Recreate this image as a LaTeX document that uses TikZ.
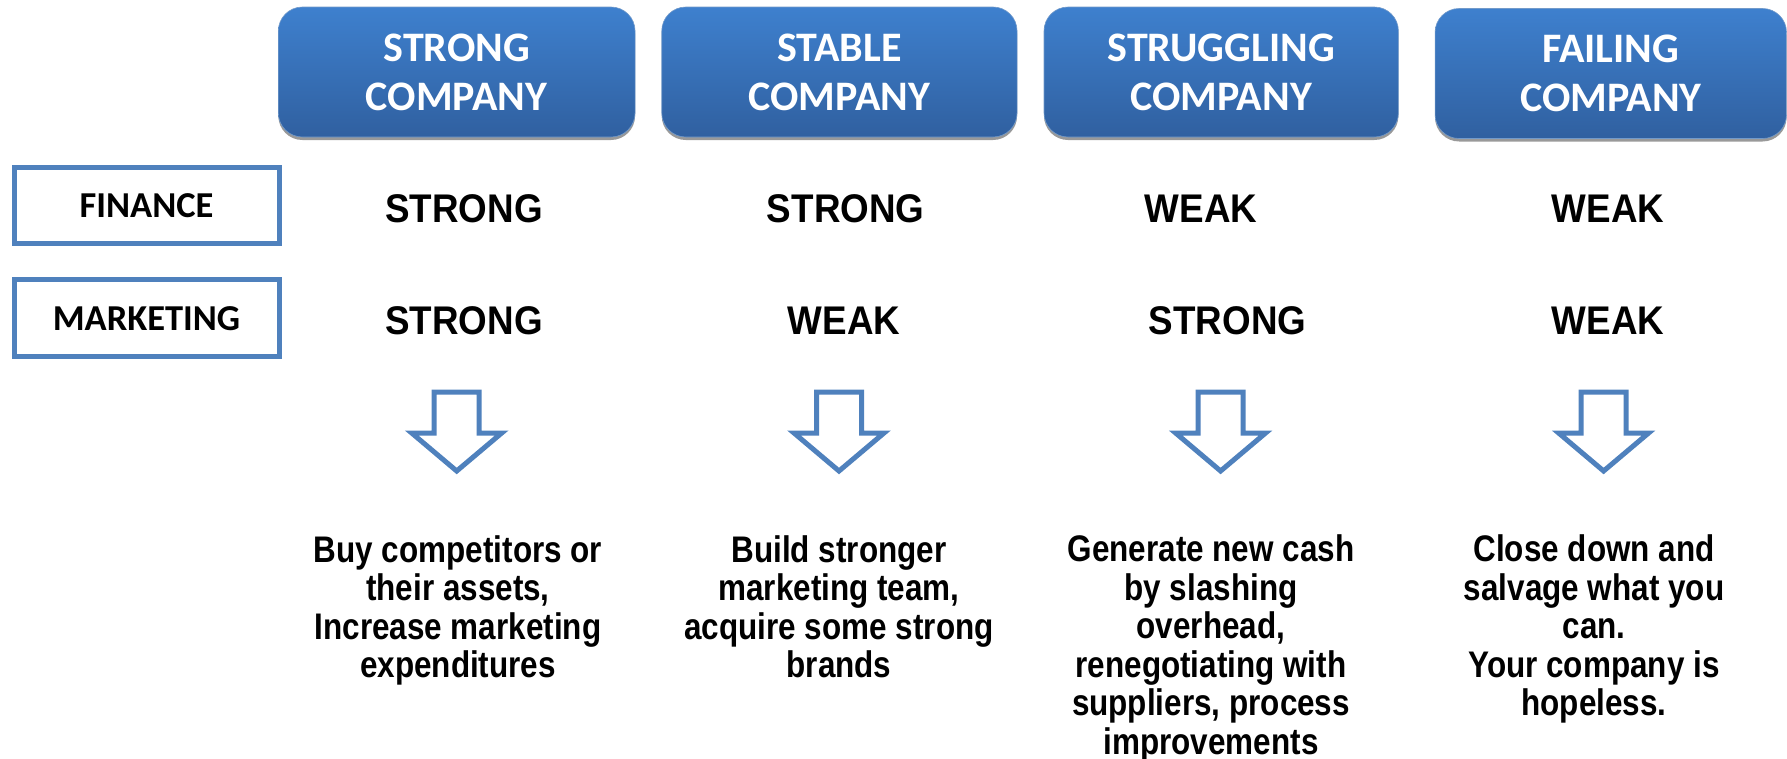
\documentclass[tikz,border=0pt]{standalone}
\usepackage{fontspec}
\usetikzlibrary{shadows}
\newfontfamily\headfont{Carlito}
\newfontfamily\valuefont{Liberation Sans}[FakeStretch=0.92]
\newfontfamily\notefont{Liberation Sans}[FakeStretch=0.85]
\definecolor{hdtop}{RGB}{62,128,206}
\definecolor{hdbot}{RGB}{48,96,160}
\definecolor{edgeblue}{RGB}{79,129,189}

\begin{document}
\begin{tikzpicture}[x=1pt,y=-1pt,
  header/.style={rectangle, rounded corners=24pt, top color=hdtop, bottom color=hdbot,
    draw=edgeblue!80, line width=0.6pt, text=white, align=center, inner sep=0pt,
    minimum height=130pt,
    font=\headfont\bfseries\fontsize{42}{49}\selectfont,
    general shadow={fill=black!40, shadow yshift=-3pt}},
  rowlabel/.style={rectangle, draw=edgeblue, line width=5pt, minimum width=265pt,
    minimum height=76.5pt, inner sep=0pt,
    font=\headfont\bfseries\fontsize{36.5}{40}\selectfont},
  value/.style={anchor=base, inner sep=0pt,
    font=\valuefont\bfseries\fontsize{40}{44}\selectfont},
  note/.style={anchor=north, inner sep=0pt, align=center,
    font=\notefont\bfseries\fontsize{37}{38.6}\selectfont},
  arrowline/.style={draw=edgeblue, line width=5pt, fill=white, miter limit=10},
  downarrow/.pic={
    \path[arrowline] (-22.5,0) -- (22.5,0) -- (22.5,41) -- (45,41) -- (0,79)
      -- (-45,41) -- (-22.5,41) -- cycle;}
]
\useasboundingbox (0,0) rectangle (1787,758);

% column headers
\node[header, minimum width=356.7pt] (h1) at (456.7,72)  {STRONG\\COMPANY};
\node[header, minimum width=355.3pt] (h2) at (839.4,72)  {STABLE\\COMPANY};
\node[header, minimum width=354.4pt] (h3) at (1221.2,72) {STRUGGLING\\COMPANY};
\node[header, minimum width=351.5pt] (h4) at (1610.8,73.5) {FAILING\\COMPANY};

% row labels
\node[rowlabel] (fin) at (146.5,205.7) {FINANCE};
\node[rowlabel] (mkt) at (146.5,318.2) {MARKETING};

% finance ratings
\node[value] (f1) at (464,222.5)  {STRONG};
\node[value] (f2) at (845.7,222.5) {STRONG};
\node[value] (f3) at (1201,222.5) {WEAK};
\node[value] (f4) at (1608,222.5) {WEAK};

% marketing ratings
\node[value] (m1) at (464,334)    {STRONG};
\node[value] (m2) at (844,334)    {WEAK};
\node[value] (m3) at (1227.5,334) {STRONG};
\node[value] (m4) at (1608,334)   {WEAK};

% outline arrows
\pic at (456.7,392) {downarrow};
\pic at (839,392)   {downarrow};
\pic at (1220.6,392) {downarrow};
\pic at (1603.6,392) {downarrow};

% recommended actions
\node[note] (n1) at (458,535)    {Buy competitors or\\their assets,\\Increase marketing\\expenditures};
\node[note] (n2) at (839,535)    {Build stronger\\marketing team,\\acquire some strong\\brands};
\node[note] (n3) at (1211,534.5) {Generate new cash\\by slashing\\overhead,\\renegotiating with\\suppliers, process\\improvements};
\node[note] (n4) at (1594,534.5) {Close down and\\salvage what you\\can.\\Your company is\\hopeless.};
\end{tikzpicture}
\end{document}
